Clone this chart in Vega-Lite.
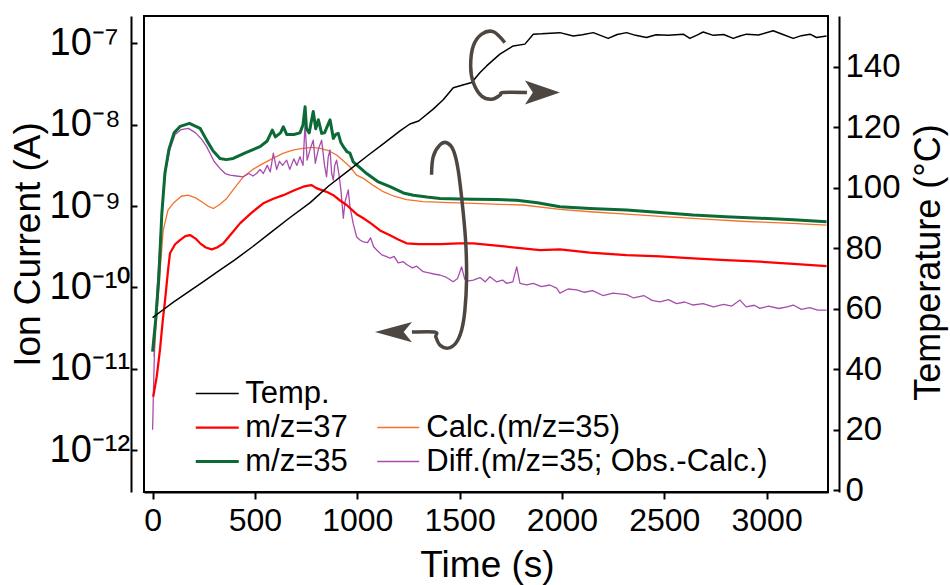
{
  "$schema": "https://vega.github.io/schema/vega-lite/v6.json",
  "width": 684,
  "height": 476,
  "autosize": {"type": "none"},
  "padding": {"left": 144, "top": 16, "right": 122, "bottom": 93},
  "background": "white",
  "config": {
    "view": {"stroke": "black", "strokeWidth": 2},
    "font": "Liberation Sans",
    "axis": {"grid": false, "labelColor": "black", "titleColor": "black", "domainColor": "black", "tickColor": "black", "domainWidth": 2, "tickWidth": 2, "titleFontWeight": "normal", "labelFont": "Liberation Sans", "titleFont": "Liberation Sans", "labelOverlap": false, "labelBound": false, "labelFlush": false},
    "legend": {"labelFont": "Liberation Sans", "labelColor": "black"}
  },
  "datasets": {
    "ion": [
      {"s": "Calc.(m/z=35)", "t": 7, "v": 1.41e-11}, {"s": "Calc.(m/z=35)", "t": 28, "v": 8.51e-11}, {"s": "Calc.(m/z=35)", "t": 52, "v": 5.07e-10}, {"s": "Calc.(m/z=35)", "t": 75, "v": 8.91e-10}, {"s": "Calc.(m/z=35)", "t": 101, "v": 1.08e-9}, {"s": "Calc.(m/z=35)", "t": 140, "v": 1.32e-9}, {"s": "Calc.(m/z=35)", "t": 174, "v": 1.36e-9}, {"s": "Calc.(m/z=35)", "t": 210, "v": 1.26e-9}, {"s": "Calc.(m/z=35)", "t": 240, "v": 1.13e-9}, {"s": "Calc.(m/z=35)", "t": 270, "v": 1.0e-9}, {"s": "Calc.(m/z=35)", "t": 297, "v": 9.33e-10}, {"s": "Calc.(m/z=35)", "t": 330, "v": 1.05e-9}, {"s": "Calc.(m/z=35)", "t": 362, "v": 1.24e-9}, {"s": "Calc.(m/z=35)", "t": 400, "v": 1.66e-9}, {"s": "Calc.(m/z=35)", "t": 443, "v": 2.29e-9}, {"s": "Calc.(m/z=35)", "t": 490, "v": 2.82e-9}, {"s": "Calc.(m/z=35)", "t": 541, "v": 3.35e-9}, {"s": "Calc.(m/z=35)", "t": 590, "v": 3.89e-9}, {"s": "Calc.(m/z=35)", "t": 639, "v": 4.47e-9}, {"s": "Calc.(m/z=35)", "t": 690, "v": 4.9e-9}, {"s": "Calc.(m/z=35)", "t": 736, "v": 5.13e-9}, {"s": "Calc.(m/z=35)", "t": 780, "v": 5.25e-9}, {"s": "Calc.(m/z=35)", "t": 818, "v": 5.13e-9}, {"s": "Calc.(m/z=35)", "t": 860, "v": 4.79e-9}, {"s": "Calc.(m/z=35)", "t": 899, "v": 4.24e-9}, {"s": "Calc.(m/z=35)", "t": 930, "v": 3.63e-9}, {"s": "Calc.(m/z=35)", "t": 964, "v": 3.04e-9}, {"s": "Calc.(m/z=35)", "t": 997, "v": 2.4e-9}, {"s": "Calc.(m/z=35)", "t": 1030, "v": 2.19e-9}, {"s": "Calc.(m/z=35)", "t": 1080, "v": 1.78e-9}, {"s": "Calc.(m/z=35)", "t": 1127, "v": 1.5e-9}, {"s": "Calc.(m/z=35)", "t": 1180, "v": 1.32e-9}, {"s": "Calc.(m/z=35)", "t": 1241, "v": 1.2e-9}, {"s": "Calc.(m/z=35)", "t": 1322, "v": 1.13e-9}, {"s": "Calc.(m/z=35)", "t": 1450, "v": 1.1e-9}, {"s": "Calc.(m/z=35)", "t": 1567, "v": 1.08e-9}, {"s": "Calc.(m/z=35)", "t": 1700, "v": 1.05e-9}, {"s": "Calc.(m/z=35)", "t": 1811, "v": 1.03e-9}, {"s": "Calc.(m/z=35)", "t": 1990, "v": 9.12e-10}, {"s": "Calc.(m/z=35)", "t": 2137, "v": 8.51e-10}, {"s": "Calc.(m/z=35)", "t": 2316, "v": 7.94e-10}, {"s": "Calc.(m/z=35)", "t": 2500, "v": 7.41e-10}, {"s": "Calc.(m/z=35)", "t": 2700, "v": 6.92e-10}, {"s": "Calc.(m/z=35)", "t": 2900, "v": 6.46e-10}, {"s": "Calc.(m/z=35)", "t": 3100, "v": 6.17e-10}, {"s": "Calc.(m/z=35)", "t": 3293, "v": 5.83e-10},
      {"s": "Diff.(m/z=35; Obs.-Calc.)", "t": 0, "v": 1.78e-12}, {"s": "Diff.(m/z=35; Obs.-Calc.)", "t": 5, "v": 6.31e-12}, {"s": "Diff.(m/z=35; Obs.-Calc.)", "t": 10, "v": 2.0e-11}, {"s": "Diff.(m/z=35; Obs.-Calc.)", "t": 20, "v": 7.94e-11}, {"s": "Diff.(m/z=35; Obs.-Calc.)", "t": 35, "v": 3.16e-10}, {"s": "Diff.(m/z=35; Obs.-Calc.)", "t": 50, "v": 1.26e-9}, {"s": "Diff.(m/z=35; Obs.-Calc.)", "t": 65, "v": 2.82e-9}, {"s": "Diff.(m/z=35; Obs.-Calc.)", "t": 85, "v": 5.01e-9}, {"s": "Diff.(m/z=35; Obs.-Calc.)", "t": 110, "v": 7.59e-9}, {"s": "Diff.(m/z=35; Obs.-Calc.)", "t": 140, "v": 8.71e-9}, {"s": "Diff.(m/z=35; Obs.-Calc.)", "t": 175, "v": 9.02e-9}, {"s": "Diff.(m/z=35; Obs.-Calc.)", "t": 210, "v": 7.94e-9}, {"s": "Diff.(m/z=35; Obs.-Calc.)", "t": 240, "v": 6.61e-9}, {"s": "Diff.(m/z=35; Obs.-Calc.)", "t": 264, "v": 5.37e-9}, {"s": "Diff.(m/z=35; Obs.-Calc.)", "t": 300, "v": 3.55e-9}, {"s": "Diff.(m/z=35; Obs.-Calc.)", "t": 329, "v": 2.9e-9}, {"s": "Diff.(m/z=35; Obs.-Calc.)", "t": 355, "v": 2.51e-9}, {"s": "Diff.(m/z=35; Obs.-Calc.)", "t": 378, "v": 2.4e-9}, {"s": "Diff.(m/z=35; Obs.-Calc.)", "t": 410, "v": 2.34e-9}, {"s": "Diff.(m/z=35; Obs.-Calc.)", "t": 443, "v": 2.29e-9}, {"s": "Diff.(m/z=35; Obs.-Calc.)", "t": 470, "v": 2.51e-9}, {"s": "Diff.(m/z=35; Obs.-Calc.)", "t": 490, "v": 2.34e-9}, {"s": "Diff.(m/z=35; Obs.-Calc.)", "t": 508, "v": 2.51e-9}, {"s": "Diff.(m/z=35; Obs.-Calc.)", "t": 525, "v": 2.82e-9}, {"s": "Diff.(m/z=35; Obs.-Calc.)", "t": 541, "v": 2.51e-9}, {"s": "Diff.(m/z=35; Obs.-Calc.)", "t": 560, "v": 3.16e-9}, {"s": "Diff.(m/z=35; Obs.-Calc.)", "t": 575, "v": 2.63e-9}, {"s": "Diff.(m/z=35; Obs.-Calc.)", "t": 590, "v": 4.47e-9}, {"s": "Diff.(m/z=35; Obs.-Calc.)", "t": 606, "v": 2.82e-9}, {"s": "Diff.(m/z=35; Obs.-Calc.)", "t": 620, "v": 3.55e-9}, {"s": "Diff.(m/z=35; Obs.-Calc.)", "t": 635, "v": 3.16e-9}, {"s": "Diff.(m/z=35; Obs.-Calc.)", "t": 655, "v": 3.67e-9}, {"s": "Diff.(m/z=35; Obs.-Calc.)", "t": 670, "v": 2.82e-9}, {"s": "Diff.(m/z=35; Obs.-Calc.)", "t": 690, "v": 3.8e-9}, {"s": "Diff.(m/z=35; Obs.-Calc.)", "t": 705, "v": 3.16e-9}, {"s": "Diff.(m/z=35; Obs.-Calc.)", "t": 720, "v": 4.04e-9}, {"s": "Diff.(m/z=35; Obs.-Calc.)", "t": 735, "v": 3.16e-9}, {"s": "Diff.(m/z=35; Obs.-Calc.)", "t": 745, "v": 1.04e-8}, {"s": "Diff.(m/z=35; Obs.-Calc.)", "t": 755, "v": 3.67e-9}, {"s": "Diff.(m/z=35; Obs.-Calc.)", "t": 770, "v": 5.01e-9}, {"s": "Diff.(m/z=35; Obs.-Calc.)", "t": 785, "v": 6.46e-9}, {"s": "Diff.(m/z=35; Obs.-Calc.)", "t": 795, "v": 3.35e-9}, {"s": "Diff.(m/z=35; Obs.-Calc.)", "t": 810, "v": 5.01e-9}, {"s": "Diff.(m/z=35; Obs.-Calc.)", "t": 826, "v": 6.46e-9}, {"s": "Diff.(m/z=35; Obs.-Calc.)", "t": 840, "v": 3.16e-9}, {"s": "Diff.(m/z=35; Obs.-Calc.)", "t": 850, "v": 2.29e-9}, {"s": "Diff.(m/z=35; Obs.-Calc.)", "t": 858, "v": 3.98e-9}, {"s": "Diff.(m/z=35; Obs.-Calc.)", "t": 867, "v": 4.9e-9}, {"s": "Diff.(m/z=35; Obs.-Calc.)", "t": 875, "v": 2.51e-9}, {"s": "Diff.(m/z=35; Obs.-Calc.)", "t": 883, "v": 2.09e-9}, {"s": "Diff.(m/z=35; Obs.-Calc.)", "t": 890, "v": 3.16e-9}, {"s": "Diff.(m/z=35; Obs.-Calc.)", "t": 899, "v": 3.67e-9}, {"s": "Diff.(m/z=35; Obs.-Calc.)", "t": 910, "v": 2.51e-9}, {"s": "Diff.(m/z=35; Obs.-Calc.)", "t": 920, "v": 1.58e-9}, {"s": "Diff.(m/z=35; Obs.-Calc.)", "t": 932, "v": 7.08e-10}, {"s": "Diff.(m/z=35; Obs.-Calc.)", "t": 940, "v": 1.12e-9}, {"s": "Diff.(m/z=35; Obs.-Calc.)", "t": 956, "v": 1.58e-9}, {"s": "Diff.(m/z=35; Obs.-Calc.)", "t": 964, "v": 1.0e-9}, {"s": "Diff.(m/z=35; Obs.-Calc.)", "t": 980, "v": 6.12e-10}, {"s": "Diff.(m/z=35; Obs.-Calc.)", "t": 997, "v": 4.17e-10}, {"s": "Diff.(m/z=35; Obs.-Calc.)", "t": 1015, "v": 3.8e-10}, {"s": "Diff.(m/z=35; Obs.-Calc.)", "t": 1030, "v": 3.63e-10}, {"s": "Diff.(m/z=35; Obs.-Calc.)", "t": 1050, "v": 3.55e-10}, {"s": "Diff.(m/z=35; Obs.-Calc.)", "t": 1065, "v": 4.07e-10}, {"s": "Diff.(m/z=35; Obs.-Calc.)", "t": 1080, "v": 3.16e-10}, {"s": "Diff.(m/z=35; Obs.-Calc.)", "t": 1095, "v": 2.88e-10}, {"s": "Diff.(m/z=35; Obs.-Calc.)", "t": 1120, "v": 2.51e-10}, {"s": "Diff.(m/z=35; Obs.-Calc.)", "t": 1140, "v": 2.4e-10}, {"s": "Diff.(m/z=35; Obs.-Calc.)", "t": 1160, "v": 2.29e-10}, {"s": "Diff.(m/z=35; Obs.-Calc.)", "t": 1180, "v": 2.4e-10}, {"s": "Diff.(m/z=35; Obs.-Calc.)", "t": 1200, "v": 2.0e-10}, {"s": "Diff.(m/z=35; Obs.-Calc.)", "t": 1225, "v": 2.07e-10}, {"s": "Diff.(m/z=35; Obs.-Calc.)", "t": 1241, "v": 1.91e-10}, {"s": "Diff.(m/z=35; Obs.-Calc.)", "t": 1270, "v": 1.74e-10}, {"s": "Diff.(m/z=35; Obs.-Calc.)", "t": 1290, "v": 1.82e-10}, {"s": "Diff.(m/z=35; Obs.-Calc.)", "t": 1322, "v": 1.56e-10}, {"s": "Diff.(m/z=35; Obs.-Calc.)", "t": 1350, "v": 1.51e-10}, {"s": "Diff.(m/z=35; Obs.-Calc.)", "t": 1380, "v": 1.45e-10}, {"s": "Diff.(m/z=35; Obs.-Calc.)", "t": 1404, "v": 1.42e-10}, {"s": "Diff.(m/z=35; Obs.-Calc.)", "t": 1430, "v": 1.35e-10}, {"s": "Diff.(m/z=35; Obs.-Calc.)", "t": 1450, "v": 1.26e-10}, {"s": "Diff.(m/z=35; Obs.-Calc.)", "t": 1469, "v": 1.17e-10}, {"s": "Diff.(m/z=35; Obs.-Calc.)", "t": 1490, "v": 1.29e-10}, {"s": "Diff.(m/z=35; Obs.-Calc.)", "t": 1510, "v": 1.79e-10}, {"s": "Diff.(m/z=35; Obs.-Calc.)", "t": 1525, "v": 1.26e-10}, {"s": "Diff.(m/z=35; Obs.-Calc.)", "t": 1545, "v": 1.2e-10}, {"s": "Diff.(m/z=35; Obs.-Calc.)", "t": 1567, "v": 1.23e-10}, {"s": "Diff.(m/z=35; Obs.-Calc.)", "t": 1600, "v": 1.32e-10}, {"s": "Diff.(m/z=35; Obs.-Calc.)", "t": 1625, "v": 1.17e-10}, {"s": "Diff.(m/z=35; Obs.-Calc.)", "t": 1648, "v": 1.35e-10}, {"s": "Diff.(m/z=35; Obs.-Calc.)", "t": 1680, "v": 1.17e-10}, {"s": "Diff.(m/z=35; Obs.-Calc.)", "t": 1710, "v": 1.23e-10}, {"s": "Diff.(m/z=35; Obs.-Calc.)", "t": 1730, "v": 1.12e-10}, {"s": "Diff.(m/z=35; Obs.-Calc.)", "t": 1760, "v": 1.17e-10}, {"s": "Diff.(m/z=35; Obs.-Calc.)", "t": 1779, "v": 1.79e-10}, {"s": "Diff.(m/z=35; Obs.-Calc.)", "t": 1795, "v": 1.12e-10}, {"s": "Diff.(m/z=35; Obs.-Calc.)", "t": 1828, "v": 1.07e-10}, {"s": "Diff.(m/z=35; Obs.-Calc.)", "t": 1860, "v": 1.12e-10}, {"s": "Diff.(m/z=35; Obs.-Calc.)", "t": 1900, "v": 1.02e-10}, {"s": "Diff.(m/z=35; Obs.-Calc.)", "t": 1940, "v": 1.07e-10}, {"s": "Diff.(m/z=35; Obs.-Calc.)", "t": 1974, "v": 9.77e-11}, {"s": "Diff.(m/z=35; Obs.-Calc.)", "t": 1990, "v": 8.51e-11}, {"s": "Diff.(m/z=35; Obs.-Calc.)", "t": 2030, "v": 9.55e-11}, {"s": "Diff.(m/z=35; Obs.-Calc.)", "t": 2072, "v": 9.33e-11}, {"s": "Diff.(m/z=35; Obs.-Calc.)", "t": 2110, "v": 8.71e-11}, {"s": "Diff.(m/z=35; Obs.-Calc.)", "t": 2150, "v": 9.12e-11}, {"s": "Diff.(m/z=35; Obs.-Calc.)", "t": 2200, "v": 7.94e-11}, {"s": "Diff.(m/z=35; Obs.-Calc.)", "t": 2250, "v": 8.51e-11}, {"s": "Diff.(m/z=35; Obs.-Calc.)", "t": 2316, "v": 8.13e-11}, {"s": "Diff.(m/z=35; Obs.-Calc.)", "t": 2350, "v": 7.41e-11}, {"s": "Diff.(m/z=35; Obs.-Calc.)", "t": 2400, "v": 7.94e-11}, {"s": "Diff.(m/z=35; Obs.-Calc.)", "t": 2440, "v": 6.92e-11}, {"s": "Diff.(m/z=35; Obs.-Calc.)", "t": 2479, "v": 6.65e-11}, {"s": "Diff.(m/z=35; Obs.-Calc.)", "t": 2520, "v": 7.08e-11}, {"s": "Diff.(m/z=35; Obs.-Calc.)", "t": 2560, "v": 6.31e-11}, {"s": "Diff.(m/z=35; Obs.-Calc.)", "t": 2600, "v": 6.61e-11}, {"s": "Diff.(m/z=35; Obs.-Calc.)", "t": 2641, "v": 6.07e-11}, {"s": "Diff.(m/z=35; Obs.-Calc.)", "t": 2690, "v": 6.31e-11}, {"s": "Diff.(m/z=35; Obs.-Calc.)", "t": 2740, "v": 5.75e-11}, {"s": "Diff.(m/z=35; Obs.-Calc.)", "t": 2790, "v": 6.17e-11}, {"s": "Diff.(m/z=35; Obs.-Calc.)", "t": 2830, "v": 5.89e-11}, {"s": "Diff.(m/z=35; Obs.-Calc.)", "t": 2870, "v": 6.98e-11}, {"s": "Diff.(m/z=35; Obs.-Calc.)", "t": 2900, "v": 5.75e-11}, {"s": "Diff.(m/z=35; Obs.-Calc.)", "t": 2940, "v": 6.03e-11}, {"s": "Diff.(m/z=35; Obs.-Calc.)", "t": 2967, "v": 5.52e-11}, {"s": "Diff.(m/z=35; Obs.-Calc.)", "t": 3010, "v": 5.89e-11}, {"s": "Diff.(m/z=35; Obs.-Calc.)", "t": 3060, "v": 5.5e-11}, {"s": "Diff.(m/z=35; Obs.-Calc.)", "t": 3100, "v": 5.75e-11}, {"s": "Diff.(m/z=35; Obs.-Calc.)", "t": 3130, "v": 6.07e-11}, {"s": "Diff.(m/z=35; Obs.-Calc.)", "t": 3170, "v": 5.37e-11}, {"s": "Diff.(m/z=35; Obs.-Calc.)", "t": 3210, "v": 5.62e-11}, {"s": "Diff.(m/z=35; Obs.-Calc.)", "t": 3250, "v": 5.25e-11}, {"s": "Diff.(m/z=35; Obs.-Calc.)", "t": 3293, "v": 5.26e-11},
      {"s": "m/z=37", "t": 3, "v": 4.52e-12}, {"s": "m/z=37", "t": 20, "v": 7.94e-12}, {"s": "m/z=37", "t": 36, "v": 1.7e-11}, {"s": "m/z=37", "t": 50, "v": 3.98e-11}, {"s": "m/z=37", "t": 61, "v": 6.98e-11}, {"s": "m/z=37", "t": 75, "v": 1.58e-10}, {"s": "m/z=37", "t": 85, "v": 2.63e-10}, {"s": "m/z=37", "t": 110, "v": 3.39e-10}, {"s": "m/z=37", "t": 134, "v": 3.82e-10}, {"s": "m/z=37", "t": 160, "v": 4.27e-10}, {"s": "m/z=37", "t": 183, "v": 4.4e-10}, {"s": "m/z=37", "t": 210, "v": 3.98e-10}, {"s": "m/z=37", "t": 232, "v": 3.48e-10}, {"s": "m/z=37", "t": 260, "v": 3.09e-10}, {"s": "m/z=37", "t": 289, "v": 2.93e-10}, {"s": "m/z=37", "t": 315, "v": 3.09e-10}, {"s": "m/z=37", "t": 346, "v": 3.48e-10}, {"s": "m/z=37", "t": 385, "v": 4.57e-10}, {"s": "m/z=37", "t": 427, "v": 6.12e-10}, {"s": "m/z=37", "t": 480, "v": 8.13e-10}, {"s": "m/z=37", "t": 541, "v": 1.08e-9}, {"s": "m/z=37", "t": 590, "v": 1.23e-9}, {"s": "m/z=37", "t": 639, "v": 1.36e-9}, {"s": "m/z=37", "t": 690, "v": 1.55e-9}, {"s": "m/z=37", "t": 736, "v": 1.73e-9}, {"s": "m/z=37", "t": 760, "v": 1.78e-9}, {"s": "m/z=37", "t": 777, "v": 1.81e-9}, {"s": "m/z=37", "t": 800, "v": 1.66e-9}, {"s": "m/z=37", "t": 826, "v": 1.57e-9}, {"s": "m/z=37", "t": 855, "v": 1.48e-9}, {"s": "m/z=37", "t": 883, "v": 1.36e-9}, {"s": "m/z=37", "t": 916, "v": 1.17e-9}, {"s": "m/z=37", "t": 948, "v": 1.03e-9}, {"s": "m/z=37", "t": 997, "v": 7.94e-10}, {"s": "m/z=37", "t": 1030, "v": 7.08e-10}, {"s": "m/z=37", "t": 1070, "v": 6.03e-10}, {"s": "m/z=37", "t": 1111, "v": 5.01e-10}, {"s": "m/z=37", "t": 1160, "v": 4.37e-10}, {"s": "m/z=37", "t": 1200, "v": 3.89e-10}, {"s": "m/z=37", "t": 1241, "v": 3.48e-10}, {"s": "m/z=37", "t": 1300, "v": 3.41e-10}, {"s": "m/z=37", "t": 1404, "v": 3.41e-10}, {"s": "m/z=37", "t": 1500, "v": 3.47e-10}, {"s": "m/z=37", "t": 1567, "v": 3.48e-10}, {"s": "m/z=37", "t": 1730, "v": 3.16e-10}, {"s": "m/z=37", "t": 1893, "v": 2.88e-10}, {"s": "m/z=37", "t": 1990, "v": 2.93e-10}, {"s": "m/z=37", "t": 2137, "v": 2.67e-10}, {"s": "m/z=37", "t": 2316, "v": 2.49e-10}, {"s": "m/z=37", "t": 2480, "v": 2.4e-10}, {"s": "m/z=37", "t": 2641, "v": 2.28e-10}, {"s": "m/z=37", "t": 2800, "v": 2.16e-10}, {"s": "m/z=37", "t": 2967, "v": 2.07e-10}, {"s": "m/z=37", "t": 3130, "v": 1.95e-10}, {"s": "m/z=37", "t": 3293, "v": 1.83e-10},
      {"s": "m/z=35", "t": 0, "v": 1.62e-11}, {"s": "m/z=35", "t": 15, "v": 3.98e-11}, {"s": "m/z=35", "t": 30, "v": 1.26e-10}, {"s": "m/z=35", "t": 45, "v": 7.94e-10}, {"s": "m/z=35", "t": 60, "v": 2.51e-9}, {"s": "m/z=35", "t": 80, "v": 5.01e-9}, {"s": "m/z=35", "t": 105, "v": 7.94e-9}, {"s": "m/z=35", "t": 135, "v": 9.55e-9}, {"s": "m/z=35", "t": 180, "v": 1.04e-8}, {"s": "m/z=35", "t": 232, "v": 9.02e-9}, {"s": "m/z=35", "t": 264, "v": 6.46e-9}, {"s": "m/z=35", "t": 295, "v": 4.79e-9}, {"s": "m/z=35", "t": 329, "v": 3.85e-9}, {"s": "m/z=35", "t": 360, "v": 3.72e-9}, {"s": "m/z=35", "t": 394, "v": 3.85e-9}, {"s": "m/z=35", "t": 450, "v": 4.47e-9}, {"s": "m/z=35", "t": 525, "v": 5.37e-9}, {"s": "m/z=35", "t": 560, "v": 6.31e-9}, {"s": "m/z=35", "t": 575, "v": 7.59e-9}, {"s": "m/z=35", "t": 585, "v": 8.59e-9}, {"s": "m/z=35", "t": 600, "v": 7.08e-9}, {"s": "m/z=35", "t": 625, "v": 7.94e-9}, {"s": "m/z=35", "t": 639, "v": 9.44e-9}, {"s": "m/z=35", "t": 655, "v": 7.59e-9}, {"s": "m/z=35", "t": 690, "v": 7.59e-9}, {"s": "m/z=35", "t": 720, "v": 7.94e-9}, {"s": "m/z=35", "t": 735, "v": 1.0e-8}, {"s": "m/z=35", "t": 745, "v": 1.66e-8}, {"s": "m/z=35", "t": 752, "v": 8.91e-9}, {"s": "m/z=35", "t": 765, "v": 7.94e-9}, {"s": "m/z=35", "t": 785, "v": 1.45e-8}, {"s": "m/z=35", "t": 797, "v": 8.91e-9}, {"s": "m/z=35", "t": 810, "v": 1.15e-8}, {"s": "m/z=35", "t": 826, "v": 7.82e-9}, {"s": "m/z=35", "t": 840, "v": 7.94e-9}, {"s": "m/z=35", "t": 867, "v": 1.15e-8}, {"s": "m/z=35", "t": 883, "v": 6.79e-9}, {"s": "m/z=35", "t": 895, "v": 7.59e-9}, {"s": "m/z=35", "t": 907, "v": 7.82e-9}, {"s": "m/z=35", "t": 920, "v": 6.03e-9}, {"s": "m/z=35", "t": 932, "v": 5.37e-9}, {"s": "m/z=35", "t": 950, "v": 4.65e-9}, {"s": "m/z=35", "t": 964, "v": 4.47e-9}, {"s": "m/z=35", "t": 980, "v": 3.5e-9}, {"s": "m/z=35", "t": 1000, "v": 3.16e-9}, {"s": "m/z=35", "t": 1046, "v": 2.51e-9}, {"s": "m/z=35", "t": 1100, "v": 2.0e-9}, {"s": "m/z=35", "t": 1160, "v": 1.73e-9}, {"s": "m/z=35", "t": 1225, "v": 1.45e-9}, {"s": "m/z=35", "t": 1274, "v": 1.36e-9}, {"s": "m/z=35", "t": 1340, "v": 1.29e-9}, {"s": "m/z=35", "t": 1404, "v": 1.24e-9}, {"s": "m/z=35", "t": 1500, "v": 1.22e-9}, {"s": "m/z=35", "t": 1567, "v": 1.21e-9}, {"s": "m/z=35", "t": 1680, "v": 1.2e-9}, {"s": "m/z=35", "t": 1779, "v": 1.18e-9}, {"s": "m/z=35", "t": 1880, "v": 1.1e-9}, {"s": "m/z=35", "t": 1990, "v": 9.8e-10}, {"s": "m/z=35", "t": 2137, "v": 9.33e-10}, {"s": "m/z=35", "t": 2316, "v": 8.91e-10}, {"s": "m/z=35", "t": 2480, "v": 8.32e-10}, {"s": "m/z=35", "t": 2641, "v": 7.76e-10}, {"s": "m/z=35", "t": 2800, "v": 7.41e-10}, {"s": "m/z=35", "t": 2967, "v": 7.08e-10}, {"s": "m/z=35", "t": 3130, "v": 6.76e-10}, {"s": "m/z=35", "t": 3293, "v": 6.41e-10}
    ],
    "temp": [
      {"s": "Temp.", "t": 0, "T": 57}, {"s": "Temp.", "t": 50, "T": 59.5}, {"s": "Temp.", "t": 100, "T": 62}, {"s": "Temp.", "t": 175, "T": 65.5}, {"s": "Temp.", "t": 250, "T": 69}, {"s": "Temp.", "t": 325, "T": 72.5}, {"s": "Temp.", "t": 400, "T": 76}, {"s": "Temp.", "t": 490, "T": 80.5}, {"s": "Temp.", "t": 575, "T": 85}, {"s": "Temp.", "t": 670, "T": 90}, {"s": "Temp.", "t": 770, "T": 95}, {"s": "Temp.", "t": 860, "T": 100.5}, {"s": "Temp.", "t": 965, "T": 106}, {"s": "Temp.", "t": 1050, "T": 110.5}, {"s": "Temp.", "t": 1130, "T": 114.6}, {"s": "Temp.", "t": 1209, "T": 118.7}, {"s": "Temp.", "t": 1257, "T": 121}, {"s": "Temp.", "t": 1300, "T": 122}, {"s": "Temp.", "t": 1371, "T": 125.9}, {"s": "Temp.", "t": 1420, "T": 129}, {"s": "Temp.", "t": 1469, "T": 133}, {"s": "Temp.", "t": 1520, "T": 134}, {"s": "Temp.", "t": 1559, "T": 134.7}, {"s": "Temp.", "t": 1600, "T": 138}, {"s": "Temp.", "t": 1632, "T": 140.2}, {"s": "Temp.", "t": 1697, "T": 144.1}, {"s": "Temp.", "t": 1762, "T": 146.8}, {"s": "Temp.", "t": 1819, "T": 147.4}, {"s": "Temp.", "t": 1860, "T": 150.7}, {"s": "Temp.", "t": 1900, "T": 150.8}, {"s": "Temp.", "t": 1990, "T": 151.2}, {"s": "Temp.", "t": 2055, "T": 150.1}, {"s": "Temp.", "t": 2100, "T": 150.5}, {"s": "Temp.", "t": 2153, "T": 151.2}, {"s": "Temp.", "t": 2226, "T": 149.3}, {"s": "Temp.", "t": 2270, "T": 150.6}, {"s": "Temp.", "t": 2316, "T": 151.2}, {"s": "Temp.", "t": 2360, "T": 150.3}, {"s": "Temp.", "t": 2413, "T": 149.6}, {"s": "Temp.", "t": 2460, "T": 150.5}, {"s": "Temp.", "t": 2520, "T": 150.3}, {"s": "Temp.", "t": 2593, "T": 150.7}, {"s": "Temp.", "t": 2625, "T": 149.3}, {"s": "Temp.", "t": 2660, "T": 150.4}, {"s": "Temp.", "t": 2690, "T": 151.4}, {"s": "Temp.", "t": 2740, "T": 150.3}, {"s": "Temp.", "t": 2790, "T": 150.6}, {"s": "Temp.", "t": 2837, "T": 149.3}, {"s": "Temp.", "t": 2870, "T": 150.1}, {"s": "Temp.", "t": 2902, "T": 150.7}, {"s": "Temp.", "t": 2960, "T": 150.4}, {"s": "Temp.", "t": 3032, "T": 151.8}, {"s": "Temp.", "t": 3080, "T": 150.6}, {"s": "Temp.", "t": 3130, "T": 149.3}, {"s": "Temp.", "t": 3170, "T": 150.2}, {"s": "Temp.", "t": 3212, "T": 150.7}, {"s": "Temp.", "t": 3244, "T": 149.6}, {"s": "Temp.", "t": 3293, "T": 150.1}
    ],
    "arrows": [
      {"id": "a1", "k": 1, "t": 1721, "T": 147.9}, {"id": "a1", "k": 2, "t": 1664, "T": 151.5}, {"id": "a1", "k": 3, "t": 1608, "T": 150.7}, {"id": "a1", "k": 4, "t": 1567, "T": 146.8}, {"id": "a1", "k": 5, "t": 1554, "T": 140.2}, {"id": "a1", "k": 6, "t": 1567, "T": 134.7}, {"id": "a1", "k": 7, "t": 1608, "T": 130.2}, {"id": "a1", "k": 8, "t": 1657, "T": 129.2}, {"id": "a1", "k": 9, "t": 1697, "T": 130.5}, {"id": "a1", "k": 10, "t": 1713, "T": 131.4}, {"id": "a1", "k": 11, "t": 1829, "T": 131.4},
      {"id": "a2", "k": 1, "t": 1363, "T": 104.2}, {"id": "a2", "k": 2, "t": 1371, "T": 110.2}, {"id": "a2", "k": 3, "t": 1404, "T": 114.1}, {"id": "a2", "k": 4, "t": 1437, "T": 114.8}, {"id": "a2", "k": 5, "t": 1469, "T": 112.4}, {"id": "a2", "k": 6, "t": 1493, "T": 105.8}, {"id": "a2", "k": 7, "t": 1518, "T": 91.5}, {"id": "a2", "k": 8, "t": 1531, "T": 80.5}, {"id": "a2", "k": 9, "t": 1534, "T": 69.4}, {"id": "a2", "k": 10, "t": 1526, "T": 59.5}, {"id": "a2", "k": 11, "t": 1510, "T": 52.9}, {"id": "a2", "k": 12, "t": 1482, "T": 48.6}, {"id": "a2", "k": 13, "t": 1443, "T": 46.9}, {"id": "a2", "k": 14, "t": 1404, "T": 47.9}, {"id": "a2", "k": 15, "t": 1384, "T": 50.6}, {"id": "a2", "k": 16, "t": 1380, "T": 52.2}, {"id": "a2", "k": 17, "t": 1267, "T": 52.2}
    ],
    "heads": [
      {"dir": "right", "t": 1905, "T": 131.4},
      {"dir": "left", "t": 1177, "T": 52.2}
    ]
  },
  "layer": [
    {
      "layer": [
        {
          "data": {"name": "ion"},
          "transform": [{"filter": "datum.s === 'Calc.(m/z=35)' || datum.s === 'Diff.(m/z=35; Obs.-Calc.)'"}],
          "mark": {"type": "line", "strokeWidth": 1.3, "strokeJoin": "round"},
          "encoding": {
            "x": {"field": "t", "type": "quantitative", "scale": {"domain": [-42, 3300], "nice": false, "zero": false},
              "axis": {"values": [0, 500, 1000, 1500, 2000, 2500, 3000], "format": "d", "tickSize": 7, "labelFontSize": 32, "labelPadding": 6, "title": "Time (s)", "titleFontSize": 37, "titleX": 343, "titleY": 73, "titleBaseline": "middle", "titleAnchor": null}},
            "y": {"field": "v", "type": "quantitative", "scale": {"type": "log", "domain": [3.05e-13, 2.17e-7], "nice": false},
              "axis": {"orient": "left", "offset": 13, "values": [1e-7, 1e-8, 1e-9, 1e-10, 1e-11, 1e-12], "tickSize": -6, "labelAlign": "left", "labelPadding": 88, "labelFontSize": 38, "labelExpr": "'10' + ['', '', '', '', '', '', '', '⁻⁷', '⁻⁸', '⁻⁹', '⁻¹⁰', '⁻¹¹', '⁻¹²'][round(-log(datum.value)/LN10)]", "title": "Ion Current (A)", "titleFontSize": 37, "titleAngle": 270, "titleBaseline": "middle", "titleX": -103, "titleY": 228}},
            "stroke": {"field": "s", "type": "nominal", "scale": {"domain": ["Calc.(m/z=35)", "Diff.(m/z=35; Obs.-Calc.)"], "range": ["#f4722b", "#a64dae"]},
              "legend": {"orient": "none", "legendX": 238.75, "legendY": 396, "title": null, "symbolType": "M-2,0L2,0", "symbolSize": 441, "symbolStrokeWidth": 1.5, "labelFontSize": 31, "labelOffset": 12.5, "padding": 0, "rowPadding": 2, "labelLimit": 0}}
          }
        },
        {
          "data": {"name": "ion"},
          "transform": [{"filter": "datum.s === 'm/z=37' || datum.s === 'm/z=35'"}],
          "mark": {"type": "line", "strokeJoin": "round"},
          "encoding": {
            "x": {"field": "t", "type": "quantitative"},
            "y": {"field": "v", "type": "quantitative"},
            "color": {"field": "s", "type": "nominal", "scale": {"domain": ["Temp.", "m/z=37", "m/z=35"], "range": ["#000000", "#ff0000", "#0b6a36"]},
              "legend": {"orient": "none", "legendX": 57.75, "legendY": 362, "title": null, "symbolType": "M-2,0L2,0", "symbolSize": 462, "labelFontSize": 31, "labelOffset": 12.5, "padding": 0, "rowPadding": 2, "labelLimit": 0}},
            "strokeWidth": {"field": "s", "type": "nominal", "scale": {"domain": ["Temp.", "m/z=37", "m/z=35"], "range": [1.5, 3, 5]},
              "legend": {"orient": "none", "legendX": 57.75, "legendY": 362, "title": null, "symbolType": "M-2,0L2,0", "symbolSize": 462, "labelFontSize": 31, "labelOffset": 12.5, "padding": 0, "rowPadding": 2, "labelLimit": 0}}
          }
        }
      ]
    },
    {
      "layer": [
        {
          "data": {"name": "temp"},
          "mark": {"type": "line", "strokeJoin": "round"},
          "encoding": {
            "x": {"field": "t", "type": "quantitative"},
            "y": {"field": "T", "type": "quantitative", "scale": {"domain": [-0.66, 156.7], "nice": false, "zero": false},
              "axis": {"orient": "right", "offset": 11, "values": [0, 20, 40, 60, 80, 100, 120, 140], "tickSize": -6, "labelPadding": 12, "labelFontSize": 33, "title": "Temperature (°C)", "titleFontSize": 36, "titleAngle": 270, "titleBaseline": "middle", "titleX": 89, "titleY": 246}},
            "color": {"field": "s", "type": "nominal", "scale": {"domain": ["Temp.", "m/z=37", "m/z=35"], "range": ["#000000", "#ff0000", "#0b6a36"]}},
            "strokeWidth": {"field": "s", "type": "nominal", "scale": {"domain": ["Temp.", "m/z=37", "m/z=35"], "range": [1.5, 3, 5]}}
          }
        },
        {
          "data": {"name": "arrows"},
          "mark": {"type": "line", "color": "#4e4641", "strokeWidth": 3.5, "interpolate": "cardinal", "strokeCap": "butt"},
          "encoding": {
            "x": {"field": "t", "type": "quantitative"},
            "y": {"field": "T", "type": "quantitative"},
            "detail": {"field": "id"},
            "order": {"field": "k", "type": "quantitative"}
          }
        },
        {
          "data": {"name": "heads"},
          "transform": [{"filter": "datum.dir === 'right'"}],
          "mark": {"type": "point", "filled": true, "opacity": 1, "color": "#4e4641", "size": 1225, "shape": "M-1,-0.69L1,0L-1,0.69L-0.55,0Z"},
          "encoding": {
            "x": {"field": "t", "type": "quantitative"},
            "y": {"field": "T", "type": "quantitative"}
          }
        },
        {
          "data": {"name": "heads"},
          "transform": [{"filter": "datum.dir === 'left'"}],
          "mark": {"type": "point", "filled": true, "opacity": 1, "color": "#4e4641", "size": 1369, "shape": "M1,-0.55L-1,0L1,0.55L0.55,0Z"},
          "encoding": {
            "x": {"field": "t", "type": "quantitative"},
            "y": {"field": "T", "type": "quantitative"}
          }
        }
      ]
    }
  ],
  "resolve": {"scale": {"y": "independent"}}
}
